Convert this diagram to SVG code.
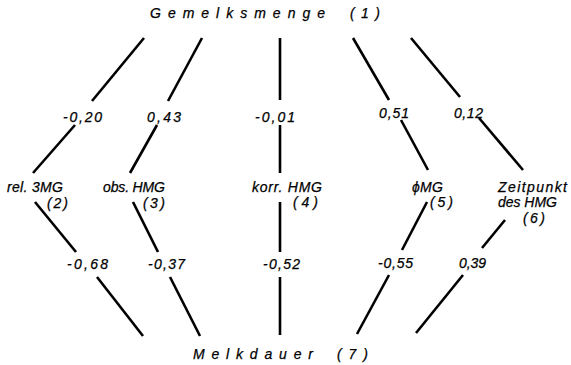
<svg xmlns="http://www.w3.org/2000/svg" width="571" height="365" viewBox="0 0 571 365">
<style>
text{font-family:"Liberation Sans","DejaVu Sans",sans-serif;font-style:italic;font-size:14px;fill:#000;stroke:#000;stroke-width:0.25}
.t{font-size:14px}
.n{font-size:14px}
#connectors line{stroke:#000;stroke-width:2.6;stroke-linecap:butt}
</style>
<rect width="571" height="365" fill="#fff"/>
<g id="n1"><text class="t" x="150" y="18" textLength="175" lengthAdjust="spacing">Gemelksmenge</text><text class="t" x="350" y="18" textLength="30" lengthAdjust="spacing">(1)</text></g>
<g id="n2"><text x="7" y="192" textLength="56" lengthAdjust="spacing">rel. 3MG</text><text x="47" y="208" textLength="21" lengthAdjust="spacing">(2)</text></g>
<g id="n3"><text x="103" y="192" textLength="62" lengthAdjust="spacing">obs. HMG</text><text x="143" y="208" textLength="22" lengthAdjust="spacing">(3)</text></g>
<g id="n4"><text x="252" y="192" textLength="70" lengthAdjust="spacing">korr. HMG</text><text x="293" y="207" textLength="25" lengthAdjust="spacing">(4)</text></g>
<g id="n5"><text x="412" y="192" textLength="31" lengthAdjust="spacing">ϕMG</text><text x="430" y="207" textLength="23" lengthAdjust="spacing">(5)</text></g>
<g id="n6"><text x="498" y="192" textLength="69" lengthAdjust="spacing">Zeitpunkt</text><text x="498" y="207" textLength="59" lengthAdjust="spacing">des HMG</text><text x="523" y="223" textLength="22" lengthAdjust="spacing">(6)</text></g>
<g id="n7"><text class="t" x="193" y="359" textLength="120" lengthAdjust="spacing">Melkdauer</text><text class="t" x="337" y="359" textLength="31" lengthAdjust="spacing">(7)</text></g>
<g id="connectors">
<line x1="144" y1="38" x2="92" y2="101"/><line x1="75" y1="125" x2="33" y2="173"/>
<line x1="202" y1="38" x2="168" y2="101"/><line x1="157" y1="125" x2="130" y2="173"/>
<line x1="280" y1="38" x2="280" y2="100"/><line x1="280" y1="125" x2="280" y2="173"/>
<line x1="353" y1="38" x2="389" y2="100"/><line x1="401" y1="120" x2="428" y2="170"/>
<line x1="411" y1="38" x2="460" y2="97"/><line x1="479" y1="118" x2="523" y2="170"/>
<line x1="35" y1="202" x2="76" y2="252"/><line x1="97" y1="277" x2="143" y2="336"/>
<line x1="133" y1="202" x2="158" y2="252"/><line x1="170" y1="277" x2="200" y2="336"/>
<line x1="280" y1="202" x2="280" y2="252"/><line x1="280" y1="277" x2="280" y2="335"/>
<line x1="427" y1="202" x2="402" y2="250"/><line x1="389" y1="275" x2="357" y2="334"/>
<line x1="505" y1="220" x2="482" y2="248"/><line x1="463" y1="275" x2="416" y2="333"/>
<g id="labels">
<text class="n" x="63" y="122" textLength="39" lengthAdjust="spacing">-0,20</text>
<text class="n" x="147" y="122" textLength="34" lengthAdjust="spacing">0,43</text>
<text class="n" x="255" y="122" textLength="40" lengthAdjust="spacing">-0,01</text>
<text class="n" x="379" y="118" textLength="30" lengthAdjust="spacing">0,51</text>
<text class="n" x="454" y="118" textLength="29" lengthAdjust="spacing">0,12</text>
<text class="n" x="67" y="269" textLength="41" lengthAdjust="spacing">-0,68</text>
<text class="n" x="148" y="269" textLength="37" lengthAdjust="spacing">-0,37</text>
<text class="n" x="263" y="269" textLength="37" lengthAdjust="spacing">-0,52</text>
<text class="n" x="378" y="268" textLength="35" lengthAdjust="spacing">-0,55</text>
<text class="n" x="459" y="268" textLength="27" lengthAdjust="spacing">0,39</text>
</g>
</g>
</svg>
